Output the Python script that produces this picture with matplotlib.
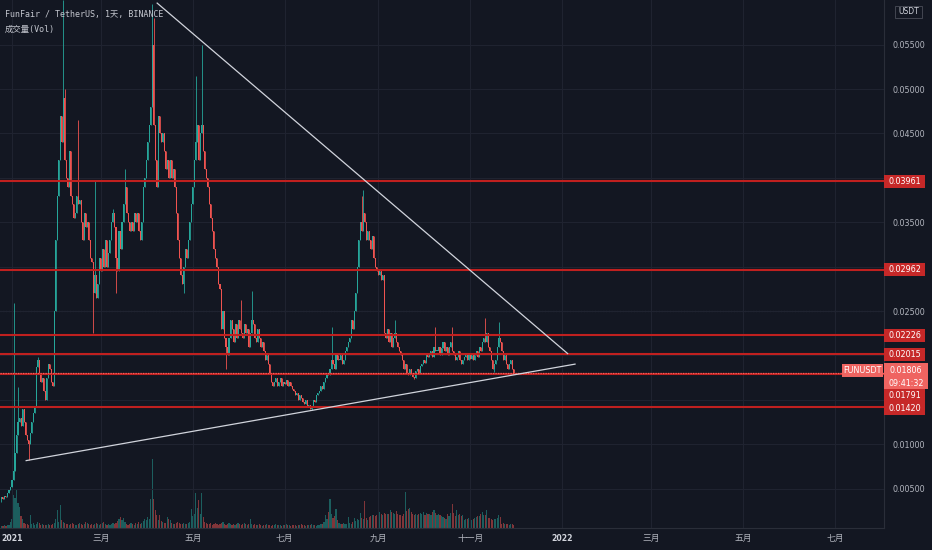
import numpy as np
import pandas as pd
import matplotlib
matplotlib.use("Agg")
import matplotlib.pyplot as plt
import matplotlib.dates as mdates
import matplotlib.transforms as mtransforms
from matplotlib.patches import Rectangle

# daily closes in 1e-5 USDT, first candle 2020-12-25
start_date = "2020-12-25"
first_open = 380
closes = [
    400, 380, 420, 410, 450, 480, 520, 600, 700,
    900, 1100, 1250, 1300, 1200, 1400, 1250, 1100, 1050, 1000,
    1130, 1250, 1350, 1420, 1870, 1950, 1800, 1700, 1750, 1600, 1500,
    1750, 1900, 1850, 1700, 1650, 2500, 3300, 3800, 4200, 4700, 4400, 4900,
    4200, 4000, 3900, 4300, 3800, 3700, 3550, 3600, 3800, 3700, 3750,
    3500, 3300, 3600, 3450, 3500, 3300, 3100, 3050, 2700, 2900, 2650, 2800,
    3100, 2950, 3200, 3000, 3300, 3000, 3150, 3300, 3500, 3600, 3450, 3100, 2950,
    3400, 3200, 3500, 3700, 3900, 3600, 3500, 3400, 3500, 3400, 3600, 3500,
    3600, 3400, 3300, 3500, 3900, 4000, 4200, 4400, 4600, 4800, 5500, 4600,
    4200, 3900, 4700, 4500, 4400, 4500, 4300, 4100, 4200, 4000, 4200, 4000, 4100, 3900,
    3600, 3300, 3100, 2900, 2800, 3000, 3200, 3100, 3300, 3500, 3700, 3900, 4200, 4400,
    4600, 4200, 4500, 4600, 4300, 4100, 4000, 3900, 3700, 3550, 3400, 3200, 3100, 3000, 2800, 2750, 2300,
    2500, 2200, 2100, 2000, 2200, 2400, 2300, 2150, 2350, 2200, 2400, 2300, 2250,
    2200, 2350, 2250, 2300, 2100, 2250, 2400, 2350, 2200, 2150, 2300, 2200, 2100, 2150, 2050,
    1950, 2000, 1900, 1800, 1700, 1650, 1700, 1750, 1650, 1700, 1750, 1650,
    1700, 1680, 1720, 1650, 1700, 1650, 1620, 1600, 1550, 1580, 1500, 1550, 1520,
    1480, 1450, 1500, 1420, 1440, 1400, 1420, 1500, 1480, 1550, 1580, 1600, 1650, 1620,
    1700, 1750, 1800, 1780, 1850, 1950, 1900, 1850, 2000, 1950, 1950, 2000, 1900, 1950, 2050,
    2100, 2150, 2200, 2400, 2300, 2500, 2700, 3000, 3300, 3500, 3400, 3600, 3500, 3300, 3400,
    3300, 3200, 3350, 3100, 3000, 2950, 2900, 2950, 2850, 2900, 2250, 2200, 2300, 2150, 2250,
    2100, 2200, 2250, 2150, 2100, 2050, 2000, 1950, 1850, 1900, 1800, 1780, 1850, 1800, 1760, 1750,
    1820, 1850, 1800, 1880, 1900, 1950, 1920, 2000, 1980, 2000, 2050, 1980, 2100, 2050,
    2050, 2100, 2000, 2080, 2150, 2050, 2100, 2000, 2100, 2150, 2050, 2000, 1950, 1980, 2050, 1950, 1900, 1950,
    1980, 2000, 1950, 2020, 1960, 2000, 1950, 2000, 2050, 1980, 2100, 2050, 2150,
    2200, 2150, 2250, 2100, 2050, 1950, 1850, 1900, 1950, 2100, 2200, 2150, 2050, 1950, 2000, 1900, 1850, 1900, 1950, 1850, 1806,
]

# long wicks (candle index -> price)
high_days = [8, 11, 24, 41, 42, 51, 62, 74, 82, 100, 101, 129, 133, 159, 166, 219, 239, 240, 261, 288, 299, 321, 330]
high_vals = [2590, 1640, 1980, 6000, 5000, 4650, 3975, 3650, 4100, 5960, 5800, 5150, 5500, 2620, 2720, 2320, 3800, 3860, 2400, 2320, 2320, 2420, 2375]
low_days = [0, 18, 61, 76, 121, 149, 206, 274, 327]
low_vals = [350, 820, 2250, 2700, 2700, 1850, 1390, 1730, 1810]

# volume (arbitrary units)
volumes = [
    2, 2, 3, 2, 3, 3, 6, 9, 33, 30, 39, 25, 21, 12, 9,
    5, 4, 4, 3, 13, 4, 5, 3, 4, 6, 5, 3, 4, 3, 3, 3, 4, 3, 3, 4, 5, 9, 18, 6, 23, 8,
    6, 5, 4, 4, 3, 4, 5, 4, 3, 3, 4, 5, 4, 3, 4, 6, 5, 4, 3, 4, 3, 4, 5, 4, 3, 4, 5, 6, 4, 3, 4, 3, 4, 5, 4, 5,
    7, 9, 11, 8, 10, 6, 4, 3, 4, 5, 4, 3, 5, 4, 6, 4, 5, 7, 9, 8,
    11, 9, 29, 69, 29, 18, 13, 8, 13, 7, 6, 5, 5, 11, 9, 8, 5, 4, 4, 5, 6, 5, 4, 4, 5, 4, 4, 5, 6,
    19, 12, 14, 35, 20, 28, 14, 35, 11,
    6, 5, 4, 4, 5, 3, 4, 5, 4, 3, 4, 5, 6, 4, 3, 4, 5, 4, 3, 4, 3, 4, 5, 4, 3, 4, 5, 4, 3, 4, 9,
    4, 3, 4, 3, 3, 4, 3, 2, 3, 3, 4, 3, 3, 2, 3, 3, 4, 3, 3, 3, 2, 3, 3, 4, 3, 3, 2, 3, 3, 3,
    2, 3, 3, 4, 3, 3, 2, 3, 3, 3, 4, 3, 3, 2, 3, 3, 4,
    4, 6, 13, 9, 16, 29, 14, 10, 12, 19,
    8, 5, 4, 4, 5, 4, 4, 11, 5, 4,
    6, 10, 7, 9, 8, 15, 10, 9, 27, 10,
    8, 11, 12, 13, 13, 12, 13, 13, 16, 14,
    13, 15, 14, 14, 14, 18, 16, 15, 14, 17,
    14, 13, 13, 12, 14, 36, 17, 19, 20, 16,
    14, 13, 14, 13, 14, 15, 14, 16, 13, 15,
    14, 14, 13, 16, 18, 15, 13, 14, 13, 12,
    11, 10, 9, 14, 12, 15, 24, 15, 12, 18,
    13, 14, 12, 13, 8, 9, 9, 10, 9, 8,
    9, 10, 11, 12, 12, 14, 16, 13, 13, 18,
    10, 10, 9, 8, 9, 9, 10, 13, 11, 4,
    5, 4, 4, 4, 3, 4, 4, 3,
]

levels = [3961, 2962, 2226, 2015, 1791, 1420]
last_price = 1806
countdown = "09:41:32"
ticker = "FUNUSDT"

upper_dates = ["2021-04-07", "2022-01-05"]
upper_prices = [5972, 2016]
lower_dates = ["2021-01-10", "2022-01-10"]
lower_prices = [814, 1903]

month_dates = ["2021-01-01", "2021-03-01", "2021-05-01", "2021-07-01", "2021-09-01", "2021-11-01",
               "2022-01-01", "2022-03-01", "2022-05-01", "2022-07-01"]
month_labels = ["2021", "三月", "五月", "七月", "九月", "十一月", "2022", "三月", "五月", "七月"]
price_ticks = [500, 1000, 1500, 2000, 2500, 3000, 3500, 4000, 4500, 5000, 5500]
# tick labels that sit behind the level tags
hidden_ticks = [1500, 2000, 3000, 4000]

# ---- styling
BG = "#131722"
GRID = "#1f2330"
TXT = "#b2b5be"
UP = "#26a69a"
DOWN = "#ef5350"
LEVEL = "#c0201f"
TAG = "#c62828"
LAST = "#ef6461"
plt.rcParams["font.family"] = ["DejaVu Sans", "Noto Sans CJK SC"]

U = 1e-5
c = np.array(closes) * U
o = np.concatenate([[first_open * U], c[:-1]])
hi = np.maximum(o, c)
lo = np.minimum(o, c)
for d, v in zip(high_days, high_vals):
    hi[d] = v * U
for d, v in zip(low_days, low_vals):
    lo[d] = v * U
up = c >= o

dates = pd.date_range(start_date, periods=len(closes))
xs = mdates.date2num(dates.values)

W, H = 932, 550
fig = plt.figure(figsize=(W / 100, H / 100), dpi=100, facecolor=BG)
ax = fig.add_axes([0, 22 / H, 884 / W, 528 / H])
ax_v = ax.twinx()
ax.set_zorder(2)
ax_v.set_zorder(1)
ax.patch.set_visible(False)

t0 = mdates.date2num(np.datetime64("2021-01-01"))
ax.set_xlim(t0 - 7.96, t0 + 578.6)
ymin, ymax = 0.000563, 0.060023
ax.set_ylim(ymin, ymax)
dpp = (ymax - ymin) / 528

# volume
vcol = [UP if u else DOWN for u in up]
ax_v.bar(xs, volumes, width=0.75, color=vcol, alpha=0.5, linewidth=0)
ax_v.set_ylim(0, 528)
ax_v.set_yticks([])
ax_v.tick_params(right=False, labelright=False)
for s in ax_v.spines.values():
    s.set_visible(False)

# grid
ax.set_xticks(mdates.date2num(np.array(month_dates, dtype="datetime64[D]")))
ax.set_xticklabels(month_labels)
ax.set_yticks(np.array(price_ticks) * U)
ax.set_yticklabels(["" if p in hidden_ticks else f"{p * U:.5f}" for p in price_ticks])
ax.grid(True, color=GRID, linewidth=0.8, zorder=0)
ax.axhline(0.025, color="#4a4e5a", linewidth=0.8, linestyle=(0, (1, 1.5)), zorder=1)

# candles
ccol = np.where(up, UP, DOWN)
ax.vlines(xs, lo, hi, colors=ccol, linewidth=0.6, zorder=3)
body = np.maximum(np.abs(c - o), 0.00006)
ax.bar(xs, body, bottom=np.minimum(o, c), width=0.7, color=ccol, linewidth=0, zorder=4)

# horizontal levels
for p in levels:
    ax.axhline(p * U, color=LEVEL, linewidth=1.5, zorder=5)
ax.axhline(last_price * U, color=LAST, linewidth=0.9, linestyle=(0, (1, 1)), zorder=6)

# trend lines
ax.plot(mdates.date2num(np.array(upper_dates, dtype="datetime64[D]")), np.array(upper_prices) * U,
        color="#d1d4dc", linewidth=0.9, zorder=7, solid_capstyle="butt")
ax.plot(mdates.date2num(np.array(lower_dates, dtype="datetime64[D]")), np.array(lower_prices) * U,
        color="#d1d4dc", linewidth=0.9, zorder=7, solid_capstyle="butt")

# axes look
ax.yaxis.tick_right()
ax.tick_params(axis="y", length=0, pad=5.8, labelsize=5.8, labelcolor=TXT)
ax.tick_params(axis="x", length=0, pad=4.5, labelsize=6.3, labelcolor=TXT)
for lab in ax.get_xticklabels():
    if lab.get_text().isdigit():
        lab.set_fontweight("bold")
        lab.set_fontsize(5.6)
        lab.set_color("#d1d4dc")
for s in ["top", "left"]:
    ax.spines[s].set_visible(False)
for s in ["right", "bottom"]:
    ax.spines[s].set_color("#2a2e39")
    ax.spines[s].set_linewidth(0.8)

# price tags on the right
trans = mtransforms.blended_transform_factory(ax.transAxes, ax.transData)


def tag(p, text, fc, dy=0, x0=884, w=41, h=13, size=5.8):
    yc = p - dy * dpp
    ax.add_patch(Rectangle((x0 / 884, yc - h * dpp / 2), w / 884, h * dpp, transform=trans,
                           facecolor=fc, edgecolor="none", clip_on=False, zorder=20))
    ax.text((x0 + w / 2) / 884, yc, text, transform=trans, ha="center", va="center",
            color="white", fontsize=size, zorder=21, clip_on=False)


tag_shift = [0, 0, 0, 0, 22, 2]
for p, dy in zip(levels, tag_shift):
    tag(p * U, f"{p * U:.5f}", TAG, dy=dy)

lp = last_price * U
ax.add_patch(Rectangle((884 / 884, lp - 16.5 * dpp), 44 / 884, 26 * dpp, transform=trans,
                       facecolor=LAST, edgecolor="none", clip_on=False, zorder=22))
ax.text(906 / 884, lp + 2 * dpp, f"{lp:.5f}", transform=trans, ha="center", va="center",
        color="white", fontsize=5.8, zorder=23, clip_on=False)
ax.text(906 / 884, lp - 10.5 * dpp, countdown, transform=trans, ha="center", va="center",
        color="white", fontsize=5.8, zorder=23, clip_on=False)
tag(lp, ticker, LAST, dy=-2, x0=842, w=41)

# header texts
mono = ["DejaVu Sans Mono", "Noto Sans CJK SC"]
fig.text(5 / W, 1 - 14 / H, "FunFair / TetherUS, 1天, BINANCE", family=mono, fontsize=6,
         color="#c3c6ce", va="center", ha="left")
fig.text(5 / W, 1 - 29 / H, "成交量(Vol)", family=mono, fontsize=6,
         color="#c3c6ce", va="center", ha="left")

# currency box
fig.add_artist(Rectangle((895 / W, 1 - 18 / H), 27 / W, 12 / H, transform=fig.transFigure,
                         facecolor=BG, edgecolor="#434651", linewidth=0.7))
fig.text(908.5 / W, 1 - 12 / H, "USDT", fontsize=5.5, color="#d1d4dc", ha="center", va="center")

fig.savefig("out.png", dpi=100, facecolor=BG)
